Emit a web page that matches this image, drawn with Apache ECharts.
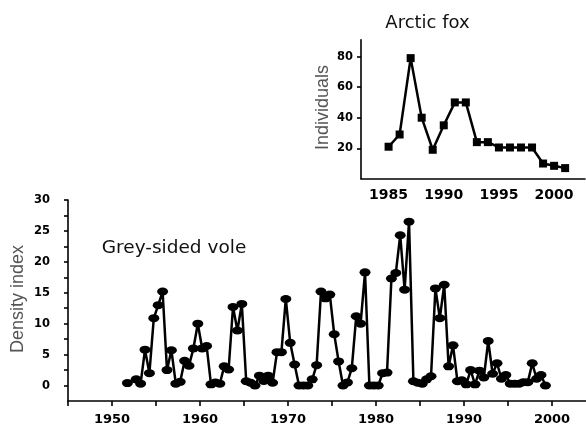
<!DOCTYPE html>
<html><head><meta charset="utf-8">
<script src="https://cdn.jsdelivr.net/npm/echarts@6/dist/echarts.min.js"></script>
<style>html,body{margin:0;padding:0;background:#fff}#c{width:586px;height:426px}</style>
</head><body><div id="c"></div>
<script>
// Grey-sided vole density index (spring/autumn samples)
const voleYears = [1951.75,1952.75,
1953.25,1953.75,1954.25,1954.75,1955.25,1955.75,1956.25,1956.75,1957.25,1957.75,
1958.25,1958.75,1959.25,1959.75,1960.25,1960.75,1961.25,1961.75,1962.25,1962.75,
1963.25,1963.75,1964.25,1964.75,1965.25,1965.75,1966.25,1966.75,1967.25,1967.75,
1968.25,1968.75,1969.25,1969.75,1970.25,1970.75,1971.25,1971.75,1972.25,1972.75,
1973.25,1973.75,1974.25,1974.75,1975.25,1975.75,1976.25,1976.75,1977.25,1977.75,
1978.25,1978.75,1979.25,1979.75,1980.25,1980.75,1981.25,1981.75,1982.25,1982.75,
1983.25,1983.75,1984.25,1984.75,1985.25,1985.75,1986.25,1986.75,1987.25,1987.75,
1988.25,1988.75,1989.25,1989.75,1990.25,1990.75,1991.25,1991.75,1992.25,1992.75,
1993.25,1993.75,1994.25,1994.75,1995.25,1995.75,1996.25,1996.75,1997.25,1997.75,
1998.25,1998.75,1999.25];
const voleValues = [0.4,1.0,
0.3,5.8,2.0,10.9,13.0,15.2,2.5,5.7,0.3,0.6,
4.0,3.2,6.0,10.0,6.0,6.4,0.2,0.5,0.3,3.1,
2.6,12.7,8.9,13.2,0.7,0.45,0.0,1.6,0.75,1.6,
0.45,5.4,5.4,14.0,6.9,3.4,0.0,0.0,0.0,1.0,
3.3,15.2,14.1,14.7,8.3,3.9,0.0,0.5,2.8,11.2,
10.0,18.3,0.0,0.0,0.0,2.0,2.1,17.3,18.2,24.3,
15.5,26.5,0.7,0.45,0.3,1.0,1.5,15.7,10.9,16.3,
3.1,6.5,0.7,0.85,0.2,2.5,0.2,2.4,1.3,7.2,
1.9,3.6,1.1,1.7,0.3,0.3,0.3,0.55,0.55,3.6,
1.1,1.7,0.0];

// Arctic fox individuals
const foxYears = [1985,1986,1987,1988,1989,1990,1991,1992,1993,1994,1995,1996,1997,1998,1999,2000,2001];
const foxValues = [21,29,79,40,19,35,50,50,24,24,20.5,20.5,20.5,20.5,10,8.5,7];

// tick labels
const voleXLabels = [1950,1960,1970,1980,1990,2000];
const voleYLabels = [0,5,10,15,20,25,30];
const foxXLabels = [1985,1990,1995,2000];
const foxYLabels = [20,40,60,80];

const voleData = voleYears.map((y,i)=>[y,voleValues[i]]);
const foxData = foxYears.map((y,i)=>[y,foxValues[i]]);

const only = list => v => (list.indexOf(Math.round(v*1000)/1000) >= 0 ? String(Math.round(v)) : '');
const LBL = {color:'#000', fontWeight:'bold', fontFamily:'DejaVu Sans'};
const axLine = {show:true, onZero:false, lineStyle:{color:'#000', width:1.6}};
const tick = len => ({show:true, inside:false, length:len, lineStyle:{color:'#000', width:1.6}});

const chart = echarts.init(document.getElementById('c'), null, {renderer:'canvas'});
chart.setOption({
  animation:false,
  backgroundColor:'#fff',
  grid:[
    {left:68, top:200, width:518, height:202},
    {left:361, top:39.8, width:224, height:139}
  ],
  xAxis:[
    {gridIndex:0, type:'value', min:1945, max:2003.86, interval:5,
     axisLine:axLine, splitLine:{show:false}, axisTick:tick(5),
     axisLabel:{show:true, showMinLabel:true, showMaxLabel:false, formatter:only(voleXLabels), margin:12, fontSize:13, ...LBL}},
    {gridIndex:1, type:'value', min:1982.5, max:2002.8, interval:2.5,
     axisLine:axLine, splitLine:{show:false}, axisTick:{show:false},
     axisLabel:{show:true, showMinLabel:false, showMaxLabel:false, formatter:only(foxXLabels), margin:10, fontSize:14, ...LBL}}
  ],
  yAxis:[
    {gridIndex:0, type:'value', min:-2.5, max:30, interval:2.5,
     axisLine:axLine, splitLine:{show:false}, axisTick:tick(4),
     axisLabel:{show:true, showMinLabel:false, formatter:only(voleYLabels), margin:18, fontSize:11.5, ...LBL}},
    {gridIndex:1, type:'value', min:0, max:91, interval:20,
     axisLine:axLine, splitLine:{show:false},
     axisTick:{show:true, inside:false, length:4, customValues:foxYLabels, lineStyle:{color:'#000', width:1.6}},
     axisLabel:{show:true, showMinLabel:false, showMaxLabel:false, formatter:only(foxYLabels), margin:8, fontSize:11.5, ...LBL}}
  ],
  series:[
    {type:'line', xAxisIndex:0, yAxisIndex:0, data:voleData,
     symbol:'circle', symbolSize:[11,8], showAllSymbol:true,
     lineStyle:{color:'#000', width:2.5}, itemStyle:{color:'#000'}},
    {type:'line', xAxisIndex:1, yAxisIndex:1, data:foxData,
     symbol:'rect', symbolSize:8, showAllSymbol:true,
     lineStyle:{color:'#000', width:2.5}, itemStyle:{color:'#000'}}
  ],
  graphic:[
    {type:'text', x:427.5, y:23.5, style:{text:'Arctic fox', fontFamily:'DejaVu Sans', fontSize:18, fill:'#111', textAlign:'center', textVerticalAlign:'middle'}},
    {type:'text', x:174, y:248, style:{text:'Grey-sided vole', fontFamily:'DejaVu Sans', fontSize:18.5, fill:'#111', textAlign:'center', textVerticalAlign:'middle'}},
    {type:'text', x:18, y:299, rotation:Math.PI/2, style:{text:'Density index', fontFamily:'Liberation Sans', fontSize:18, fill:'#555', textAlign:'center', textVerticalAlign:'middle'}},
    {type:'text', x:323, y:107.5, rotation:Math.PI/2, style:{text:'Individuals', fontFamily:'Liberation Sans', fontSize:18, fill:'#555', textAlign:'center', textVerticalAlign:'middle'}}
  ]
});
</script></body></html>
